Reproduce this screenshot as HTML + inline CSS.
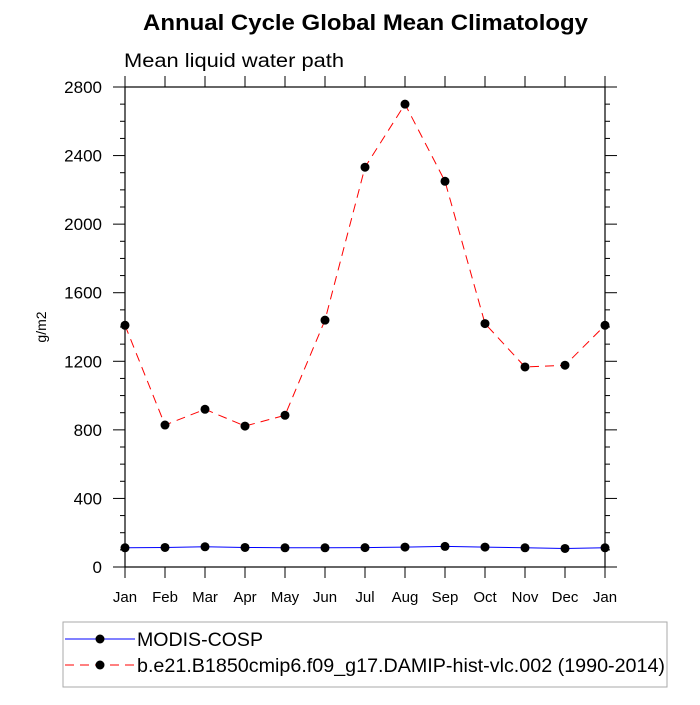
<!DOCTYPE html>
<html><head><meta charset="utf-8"><style>
body{margin:0;background:#fff}
svg text{font-family:"Liberation Sans",sans-serif}
</style></head><body>
<svg id="c" width="700" height="700" xmlns="http://www.w3.org/2000/svg">
<text x="143" y="30" font-size="22" font-weight="bold" textLength="445" lengthAdjust="spacingAndGlyphs">Annual Cycle Global Mean Climatology</text>
<text x="124" y="67" font-size="19" textLength="220" lengthAdjust="spacingAndGlyphs">Mean liquid water path</text>
<text x="46" y="327" font-size="14" text-anchor="middle" transform="rotate(-90 46 327)">g/m2</text>
<g id="axes"></g>
<g id="series"></g>
<rect x="63" y="622" width="604" height="65" fill="none" stroke="#aaa"/>
<g>
<line x1="65" y1="639" x2="135" y2="639" stroke="#0000ff" stroke-width="1"/>
<circle cx="100" cy="639" r="4.5" fill="#000"/>
<text x="137" y="646" font-size="19" textLength="126" lengthAdjust="spacingAndGlyphs">MODIS-COSP</text></g>
<g>
<line x1="65" y1="665" x2="135" y2="665" stroke="#ff0000" stroke-dasharray="9,6"/>
<circle cx="100" cy="665" r="4.5" fill="#000"/>
<text x="137" y="672" font-size="19" textLength="528" lengthAdjust="spacingAndGlyphs">b.e21.B1850cmip6.f09_g17.DAMIP-hist-vlc.002 (1990-2014)</text></g>
</svg>
<script>
const months=["Jan","Feb","Mar","Apr","May","Jun","Jul","Aug","Sep","Oct","Nov","Dec","Jan"];
const modisValues=[112,114,118,114,112,112,113,116,120,116,112,108,112];
const modelValues=[1410,828,920,822,885,1440,2332,2700,2250,1420,1167,1177,1410];
const yTicks=[0,400,800,1200,1600,2000,2400,2800];
const L=125,R=605,T=87,B=567,YMAX=2800;
const xs=i=>L+i*(R-L)/(months.length-1);
const ys=v=>B-v/YMAX*(B-T);
const NS="http://www.w3.org/2000/svg";
function mk(p,tag,a){const e=document.createElementNS(NS,tag);for(const k in a)e.setAttribute(k,a[k]);p.appendChild(e);return e;}
const ax=document.getElementById('axes');
const fr=mk(ax,'rect',{x:L,y:T,width:R-L,height:B-T,fill:'none',stroke:'#000','stroke-width':1.2});


months.forEach((m,i)=>{
 const x=xs(i);
 mk(ax,'line',{x1:x,y1:B,x2:x,y2:B+11,stroke:'#000'});
 mk(ax,'line',{x1:x,y1:T,x2:x,y2:T-11,stroke:'#000'});
 const t=mk(ax,'text',{x:x,y:B+35,'text-anchor':'middle','font-size':15});
 t.textContent=m;
 
 
});
for(let v=0;v<=YMAX;v+=100){
 const y=ys(v),maj=v%400===0,len=maj?12:5;
 mk(ax,'line',{x1:L-len,y1:y,x2:L,y2:y,stroke:'#000'});
 mk(ax,'line',{x1:R,y1:y,x2:R+len,y2:y,stroke:'#000'});
}
yTicks.forEach(v=>{
 const t=mk(ax,'text',{x:L-23,y:ys(v)+6,'text-anchor':'end','font-size':17});
 t.textContent=v;
 
 
});
const sg=document.getElementById('series');
function series(vals,color,dash,name){
 const g=mk(sg,'g',{});
 
 
 const a={points:vals.map((v,i)=>xs(i)+','+ys(v)).join(' '),fill:'none',stroke:color,'stroke-width':1};
 if(dash)a['stroke-dasharray']=dash;
 mk(g,'polyline',a);
 vals.forEach((v,i)=>{
  const c=mk(g,'circle',{cx:xs(i),cy:ys(v),r:4.5,fill:'#000'});
  
  
 });
}
series(modisValues,'#0000ff',null,'modis-series');
series(modelValues,'#ff0000','9,6','model-series');
</script>
</body></html>
